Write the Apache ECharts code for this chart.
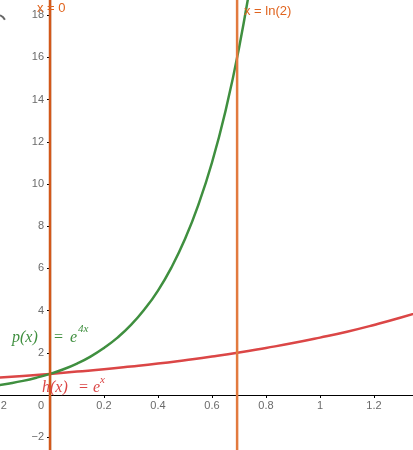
<!DOCTYPE html>
<html>
<head>
<meta charset="utf-8">
<script src="https://cdn.jsdelivr.net/npm/echarts@6/dist/echarts.min.js"></script>
<style>
  html, body { margin: 0; padding: 0; background: #fff; }
  #chart { width: 413px; height: 450px; }
</style>
</head>
<body>
<div id="chart"></div>
<script>
var pX = [-0.2, -0.15, -0.1, -0.05, 0, 0.05, 0.1, 0.15, 0.2, 0.25, 0.3, 0.35, 0.4, 0.45, 0.5, 0.55, 0.6, 0.65, 0.7, 0.75];
var pY = [0.45, 0.55, 0.67, 0.82, 1, 1.22, 1.49, 1.82, 2.23, 2.72, 3.32, 4.06, 4.95, 6.05, 7.39, 9.03, 11.02, 13.46, 16.44, 20.09];
var hX = [-0.2, -0.1, 0, 0.1, 0.2, 0.3, 0.4, 0.5, 0.6, 0.7, 0.8, 0.9, 1.0, 1.1, 1.2, 1.3, 1.4];
var hY = [0.82, 0.9, 1, 1.11, 1.22, 1.35, 1.49, 1.65, 1.82, 2.01, 2.23, 2.46, 2.72, 3.0, 3.32, 3.67, 4.06];
var vLines = [0, 0.693];
var xTicks = [-0.2, 0.2, 0.4, 0.6, 0.8, 1, 1.2];
var yTicks = [-2, 2, 4, 6, 8, 10, 12, 14, 16, 18];

function pairs(xs, ys) {
  var out = [];
  for (var i = 0; i < xs.length; i++) out.push([xs[i], ys[i]]);
  return out;
}

function num(v) { return String(v).replace('-', '\u2212'); }

var tickFont = { fontFamily: 'Liberation Sans, Arial, sans-serif', fontSize: 11, color: '#444' };
var serif = 'Liberation Serif, Times New Roman, serif';
var green = '#3f8f3f', red = '#db4646';

function txt(x, y, s, color, size, italic, family) {
  return {
    type: 'text', left: x, top: y, z: 100,
    style: {
      text: s, fill: color, fontSize: size,
      fontStyle: italic ? 'italic' : 'normal',
      fontFamily: family || 'Liberation Sans, Arial, sans-serif'
    }
  };
}

// tick labels sit next to the axes (GeoGebra style), so draw them as label-only points
function tickLabels(data, pos, fmt, extra) {
  return {
    type: 'scatter', data: data, symbolSize: 0, silent: true, z: 6,
    label: Object.assign({ show: true, position: pos, formatter: fmt }, tickFont, extra || {})
  };
}

var chart = echarts.init(document.getElementById('chart'));
chart.setOption({
  animation: false,
  grid: { left: -4, right: -15, top: -27, bottom: -29.4, containLabel: false, outerBoundsMode: 'none' },
  xAxis: {
    type: 'value', min: -0.2, max: 1.4, interval: 0.2,
    axisLine: { onZero: true, lineStyle: { color: '#000', width: 1.2 } },
    axisTick: { length: 3, lineStyle: { color: '#000' } },
    splitLine: { show: false },
    axisLabel: { show: false }
  },
  yAxis: {
    type: 'value', min: -4, max: 20, interval: 2,
    axisLine: { onZero: true, lineStyle: { color: '#000', width: 1.2 } },
    axisTick: { length: 3, lineStyle: { color: '#000' } },
    splitLine: { show: false },
    axisLabel: { show: false }
  },
  series: [
    tickLabels(xTicks.map(function (v) { return [v, 0]; }), 'bottom',
      function (p) { return num(p.value[0]); }, { distance: 5 }),
    tickLabels(yTicks.map(function (v) { return [0, v]; }), 'left',
      function (p) { return num(p.value[1]); }, { distance: 6 }),
    tickLabels([[0, 0]], 'bottom', '0', { distance: 5, offset: [-9, 0] }),
    {
      type: 'line', data: pairs(hX, hY), smooth: true, showSymbol: false, z: 3,
      lineStyle: { color: red, width: 2.5 }
    },
    {
      type: 'line', data: pairs(pX, pY), smooth: true, showSymbol: false, z: 4,
      lineStyle: { color: green, width: 2.5 }
    },
    {
      type: 'line', data: [[vLines[1], -4], [vLines[1], 20]], showSymbol: false, z: 5,
      lineStyle: { color: '#e27a3e', width: 2.5 }
    },
    {
      type: 'line', data: [[vLines[0], -4], [vLines[0], 20]], showSymbol: false, z: 5,
      lineStyle: { color: '#d2581a', width: 2.5 }
    }
  ],
  graphic: [
    txt(37, 2, 'x = 0', '#e0641e', 13),
    txt(244, 5, 'x = ln(2)', '#e0641e', 13),
    // p(x) = e^{4x}
    txt(12, 330, 'p(x)', green, 16, true, serif),
    txt(54, 330, '=', green, 16, false, serif),
    txt(70, 330, 'e', green, 16, true, serif),
    txt(78, 324, '4x', green, 11, true, serif),
    // h(x) = e^x
    txt(42, 380, 'h(x)', red, 16, true, serif),
    txt(79, 380, '=', red, 16, false, serif),
    txt(93, 380, 'e', red, 16, true, serif),
    txt(100, 375, 'x', red, 11, true, serif),
    {
      type: 'arc', z: 100,
      shape: { cx: -3, cy: 24, r: 9, startAngle: -1.8, endAngle: -0.5 },
      style: { stroke: '#666', lineWidth: 2, fill: null }
    }
  ]
});
</script>
</body>
</html>
